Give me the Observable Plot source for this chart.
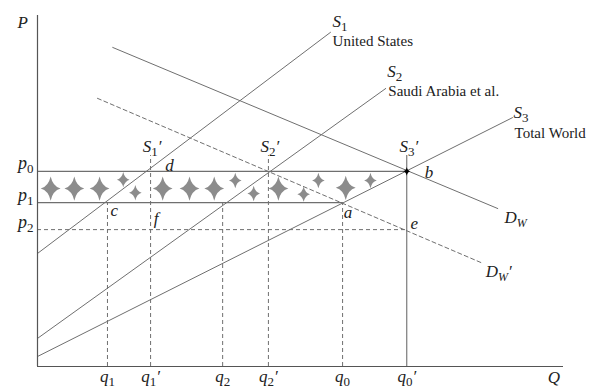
<!DOCTYPE html>
<html>
<head>
<meta charset="utf-8">
<script src="https://cdn.jsdelivr.net/npm/d3@7"></script>
<script src="https://cdn.jsdelivr.net/npm/@observablehq/plot@0.6"></script>
<style>
  html, body { margin: 0; padding: 0; background: #fff; }
  svg { display: block; }
  #chart svg, #chart svg text { font-family: "Liberation Serif", "Times New Roman", serif !important; }
</style>
</head>
<body>
<div id="chart"></div>
<script>
// ---- data (conceptual units: Q and P on 0–100 scales) ----
const qNames = ["q_1", "q_1'", "q_2", "q_2'", "q_0", "q_0'"];
const qValues = [13.3, 21.5, 35.2, 43.9, 58.0, 70.2];
const qTops = [46.7, 60.1, 46.7, 60.1, 46.7, 60.1];
const qDashed = [true, true, true, true, true, false];

const pNames = ["p_0", "p_1", "p_2"];
const pValues = [55.6, 46.7, 39.0];
const pEnds = [70.2, 58.0, 70.2];
const pDashed = [false, false, true];

const supplyUS = [[0, 32.2], [55.7, 95.2]];
const supplySaudi = [[0, 8.0], [66.2, 79.2]];
const supplyWorld = [[0, 2.85], [90.3, 70.9]];
const demandWorld = [[14.3, 90.9], [87.5, 45.0]];
const demandWorldShifted = [[11.4, 76.4], [84.8, 29.3]];

const equilibrium = [[70.2, 55.6]];

const starQ = [2.5, 7.0, 11.8, 16.3, 18.6, 23.8, 28.9, 33.6, 37.6, 41.1, 45.8, 50.6, 53.4, 58.6, 63.3];
const starP = [50.7, 50.7, 50.7, 53.2, 49.5, 50.7, 50.7, 50.7, 53.0, 49.3, 50.7, 49.1, 53.0, 50.9, 53.0];
const starSize = ["big","big","big","small","small","big","big","big","small","small","big","small","small","big","small"];

const curveLabels = ["S_1", "S_2", "S_3", "S_1'", "S_2'", "S_3'", "D_W", "D_W'", "P", "Q"];
const curveLabelQ = [56.1, 66.5, 90.5, 20.0, 42.4, 68.8, 88.8, 85.2, -3.8, 97.0];
const curveLabelP = [96.6, 82.6, 70.9, 61.0, 61.0, 61.0, 41.0, 25.4, 96.3, -4.6];

const pointLabels = ["d", "c", "f", "a", "b", "e"];
const pointLabelQ = [24.3, 13.9, 22.1, 58.2, 73.6, 70.9];
const pointLabelP = [55.8, 43.0, 40.5, 42.2, 53.8, 39.3];

const noteLabels = ["United States", "Saudi Arabia et al.", "Total World"];
const noteQ = [56.1, 66.7, 90.7];
const noteP = [91.2, 77.2, 65.2];

// ---- helpers ----
const LINE = "#6f6f6f";
const SERIF = "'Liberation Serif', 'Times New Roman', serif";
const idx = (arr) => arr.map((_, i) => i);

const sparkle = {
  draw(ctx, size) {
    const r = Math.sqrt(size / Math.PI);
    const rx = r * 0.9, ry = r * 1.1, w = r * 0.2;
    ctx.moveTo(0, -ry);
    ctx.quadraticCurveTo(w, -w, rx, 0);
    ctx.quadraticCurveTo(w, w, 0, ry);
    ctx.quadraticCurveTo(-w, w, -rx, 0);
    ctx.quadraticCurveTo(-w, -w, 0, -ry);
    ctx.closePath();
  }
};

const vI = idx(qValues), hI = idx(pValues), sI = idx(starQ);
const txt = {fontFamily: SERIF, fill: "#222", lineAnchor: "bottom"};

const chart = Plot.plot({
  width: 593,
  height: 390,
  marginTop: 15,
  marginRight: 30,
  marginBottom: 24,
  marginLeft: 37,
  x: {domain: [0, 100], axis: null},
  y: {domain: [0, 100], axis: null},
  style: {background: "#fff"},
  marks: [
    // band stars
    Plot.dot(sI.filter(i => starSize[i] === "big"), {x: i => starQ[i], y: i => starP[i], r: 11, symbol: sparkle, fill: "#8c8c8c", stroke: "none"}),
    Plot.dot(sI.filter(i => starSize[i] === "small"), {x: i => starQ[i], y: i => starP[i], r: 7, symbol: sparkle, fill: "#8c8c8c", stroke: "none"}),
    // price lines
    Plot.ruleY(hI.filter(i => !pDashed[i]), {y: i => pValues[i], x1: 0, x2: i => pEnds[i], stroke: LINE, strokeWidth: 1.1}),
    Plot.ruleY(hI.filter(i => pDashed[i]), {y: i => pValues[i], x1: 0, x2: i => pEnds[i], stroke: LINE, strokeWidth: 1, strokeDasharray: "4,3"}),
    // quantity lines
    Plot.ruleX(vI.filter(i => qDashed[i]), {x: i => qValues[i], y1: 0, y2: i => qTops[i], stroke: LINE, strokeWidth: 1, strokeDasharray: "4,3"}),
    Plot.ruleX(vI.filter(i => !qDashed[i]), {x: i => qValues[i], y1: 0, y2: i => qTops[i], stroke: LINE, strokeWidth: 1.1}),
    // supply & demand
    Plot.line(supplyUS, {x: d => d[0], y: d => d[1], stroke: LINE, strokeWidth: 1}),
    Plot.line(supplySaudi, {x: d => d[0], y: d => d[1], stroke: LINE, strokeWidth: 1}),
    Plot.line(supplyWorld, {x: d => d[0], y: d => d[1], stroke: LINE, strokeWidth: 1}),
    Plot.line(demandWorld, {x: d => d[0], y: d => d[1], stroke: LINE, strokeWidth: 1}),
    Plot.line(demandWorldShifted, {x: d => d[0], y: d => d[1], stroke: LINE, strokeWidth: 1, strokeDasharray: "4,3"}),
    // axes
    Plot.ruleX([0], {stroke: "#555", strokeWidth: 1.2}),
    Plot.ruleY([0], {stroke: "#555", strokeWidth: 1.2}),
    // equilibrium marker
    Plot.dot(equilibrium, {x: d => d[0], y: d => d[1], r: 4, symbol: sparkle, fill: "#000", stroke: "none"}),
    // tick labels
    Plot.text(qNames, {...txt, x: (d, i) => qValues[i], frameAnchor: "bottom", dy: 15, text: d => d, textAnchor: "middle", fontSize: 17, fontStyle: "italic"}),
    Plot.text(pNames, {...txt, y: (d, i) => pValues[i], frameAnchor: "left", dx: -4, dy: -2, text: d => d, textAnchor: "end", fontSize: 18, fontStyle: "italic"}),
    // curve labels
    Plot.text(curveLabels, {...txt, x: (d, i) => curveLabelQ[i], y: (d, i) => curveLabelP[i], text: d => d, textAnchor: "start", fontSize: 17, fontStyle: "italic"}),
    Plot.text(pointLabels, {...txt, x: (d, i) => pointLabelQ[i], y: (d, i) => pointLabelP[i], text: d => d, textAnchor: "start", fontSize: 17, fontStyle: "italic"}),
    Plot.text(noteLabels, {...txt, x: (d, i) => noteQ[i], y: (d, i) => noteP[i], text: d => d, textAnchor: "start", fontSize: 15})
  ]
});

// turn "X_s'" labels into main letter + subscript (+ prime)
d3.select(chart).selectAll("text").each(function () {
  const s = this.textContent;
  const m = s.match(/^([^_]+)_([^']+)('?)$/);
  if (!m) return;
  const el = d3.select(this);
  const isDigit = /\d/.test(m[2]);
  el.text(null);
  el.append("tspan").text(m[1]);
  el.append("tspan").attr("dy", 4)
    .attr("font-size", isDigit ? 13 : 12)
    .attr("font-style", isDigit ? "normal" : "italic")
    .text(m[2]);
  if (m[3]) el.append("tspan").attr("dy", -4).text("\u2032");
});

chart.style.fontFamily = SERIF;
document.getElementById("chart").appendChild(chart);
</script>
</body>
</html>
